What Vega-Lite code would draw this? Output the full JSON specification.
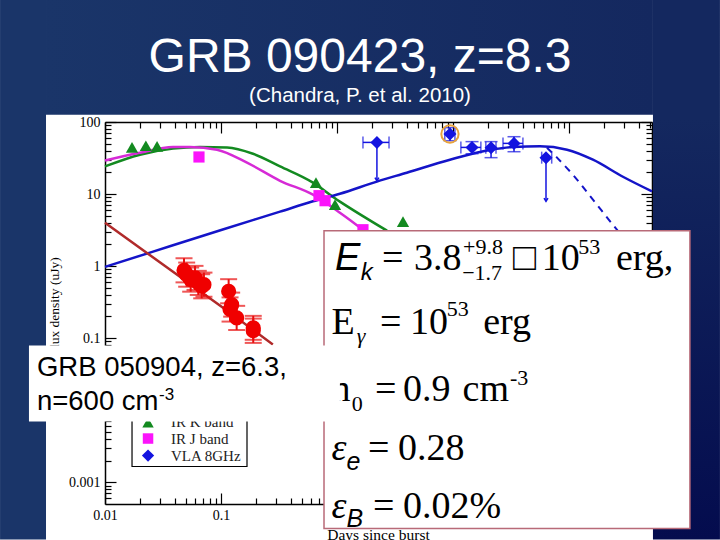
{"$schema":"https://vega.github.io/schema/vega-lite/v6.json","width":547,"height":382,"autosize":"none","padding":{"left":105,"top":122,"right":68,"bottom":36},"background":"#ffffff","view":{"stroke":null},
"datasets":{
"curves":[
{"series":"IR K model","t":0.01,"f":24.2},{"series":"IR K model","t":0.02,"f":35.2},{"series":"IR K model","t":0.0386,"f":42.7},{"series":"IR K model","t":0.0659,"f":45},{"series":"IR K model","t":0.1128,"f":44.4},{"series":"IR K model","t":0.1888,"f":36.3},{"series":"IR K model","t":0.323,"f":24.2},{"series":"IR K model","t":0.621,"f":14.4},{"series":"IR K model","t":1,"f":8.35},{"series":"IR K model","t":1.06,"f":7.85},{"series":"IR K model","t":2.7,"f":3.1},
{"series":"IR J model","t":0.01,"f":29.3},{"series":"IR J model","t":0.02,"f":37.5},{"series":"IR J model","t":0.0386,"f":45},{"series":"IR J model","t":0.0541,"f":45},{"series":"IR J model","t":0.0924,"f":41.3},{"series":"IR J model","t":0.1676,"f":27.3},{"series":"IR J model","t":0.323,"f":15.3},{"series":"IR J model","t":0.621,"f":9.8},{"series":"IR J model","t":1.06,"f":5.52},{"series":"IR J model","t":1.58,"f":3.42},{"series":"IR J model","t":1.74,"f":3.01},
{"series":"VLA model","t":0.01,"f":0.975},{"series":"VLA model","t":0.0244,"f":1.54},{"series":"VLA model","t":0.102,"f":3.2},{"series":"VLA model","t":0.323,"f":5.7},{"series":"VLA model","t":0.621,"f":7.93},{"series":"VLA model","t":1.06,"f":10.1},{"series":"VLA model","t":2.21,"f":14.9},{"series":"VLA model","t":4,"f":19.8},{"series":"VLA model","t":9.42,"f":30},{"series":"VLA model","t":21.3,"f":41.3},{"series":"VLA model","t":32.9,"f":45},{"series":"VLA model","t":56.2,"f":45.9},{"series":"VLA model","t":96.2,"f":41.3},{"series":"VLA model","t":161,"f":30},{"series":"VLA model","t":292,"f":17.4},{"series":"VLA model","t":520,"f":10.9},
{"series":"Optical model","t":0.01,"f":4},{"series":"Optical model","t":0.102,"f":0.27},{"series":"Optical model","t":0.28,"f":0.082}],
"dashed":[{"t":64.6,"f":44},{"t":78.9,"f":32},{"t":108,"f":18.6},{"t":161,"f":8.35},{"t":259,"f":3.2},{"t":300,"f":2.4}],
"optical":[{"t":0.048,"f":0.875,"flo":0.595,"fhi":1.286},{"t":0.0506,"f":0.762,"flo":0.518,"fhi":1.12},{"t":0.0548,"f":0.65,"flo":0.442,"fhi":0.955},{"t":0.0597,"f":0.686,"flo":0.467,"fhi":1.008},{"t":0.0637,"f":0.585,"flo":0.398,"fhi":0.86},{"t":0.0682,"f":0.525,"flo":0.357,"fhi":0.772},{"t":0.0713,"f":0.553,"flo":0.376,"fhi":0.813},{"t":0.1164,"f":0.448,"flo":0.305,"fhi":0.659},{"t":0.1236,"f":0.292,"flo":0.199,"fhi":0.429},{"t":0.1197,"f":0.25,"flo":0.17,"fhi":0.368},{"t":0.1365,"f":0.191,"flo":0.13,"fhi":0.281},{"t":0.1897,"f":0.139,"flo":0.095,"fhi":0.204},{"t":0.1897,"f":0.127,"flo":0.086,"fhi":0.187}],
"irk":[{"t":0.0171,"f":44.4},{"t":0.0225,"f":46.9},{"t":0.0281,"f":45.9},{"t":0.659,"f":14.4},{"t":0.962,"f":7.13},{"t":3.71,"f":4.14}],
"irj":[{"t":0.0646,"f":32.7},{"t":0.7,"f":9.5},{"t":0.789,"f":8.09},{"t":1.675,"f":3.2}],
"vla":[{"t":2.21,"f":52.1,"tlo":1.675,"thi":2.81,"flo":15.3,"limit":true},{"t":9.42,"f":68.2,"tlo":8.5,"thi":10.4,"flo":55,"fhi":83.4,"limit":false},{"t":14.6,"f":44.4,"tlo":11.7,"thi":17.4,"flo":36.3,"fhi":53.4,"limit":false},{"t":21.3,"f":44,"tlo":19.2,"thi":23.5,"flo":32,"fhi":53.4,"limit":false},{"t":33.6,"f":50.5,"tlo":27,"thi":40.1,"flo":38.7,"fhi":62.5,"limit":false},{"t":63.4,"f":32,"tlo":58.2,"thi":71,"flo":7.93,"limit":true}],
"big":[{"s":"=","t":2.44,"f":0.875},{"s":"3.8","t":4.61,"f":0.875},{"s":"□","t":32.9,"f":0.875},{"s":"10","t":58.2,"f":0.875},{"s":"erg,","t":254,"f":0.875},{"s":"E","t":0.899,"f":0.116},{"s":"=","t":2.35,"f":0.116},{"s":"10","t":4.26,"f":0.116},{"s":"erg","t":18.2,"f":0.116},{"s":"n","t":0.899,"f":0.01334},{"s":"=","t":2.13,"f":0.01334},{"s":"0.9","t":3.71,"f":0.01334},{"s":"cm","t":12.1,"f":0.01334},{"s":"=","t":1.85,"f":0.00207},{"s":"0.28","t":3.36,"f":0.00207},{"s":"=","t":2.04,"f":0.000322},{"s":"0.02%","t":3.71,"f":0.000322}],
"small":[{"s":"+9.8","t":12.2,"f":1.49},{"s":"−1.7","t":12,"f":0.635},{"s":"53","t":120,"f":1.49},{"s":"53","t":8.83,"f":0.201},{"s":"0","t":1.34,"f":0.00968},{"s":"-3","t":31,"f":0.0227}],
"epsilon":[{"s":"ε","t":0.899,"f":0.00207},{"s":"ε","t":0.899,"f":0.000322}],
"legendText":[{"s":"IR K band","t":0.0371,"f":0.0058},{"s":"IR J band","t":0.0371,"f":0.00345},{"s":"VLA 8GHz","t":0.0371,"f":0.002}]
},
"encoding":{"x":{"field":"t","type":"quantitative","scale":{"type":"log","domain":[0.01,520],"nice":false},"axis":null},"y":{"field":"f","type":"quantitative","scale":{"type":"log","domain":[0.0005,100],"nice":false},"axis":null}},
"layer":[
{"data":{"name":"curves"},"mark":{"type":"line","strokeWidth":2.5,"interpolate":"monotone"},"encoding":{
"x":{"field":"t","type":"quantitative","scale":{"type":"log","domain":[0.01,520],"nice":false},"axis":{"orient":"bottom","title":"Days since burst","titleFont":"Liberation Serif","titleFontSize":15.5,"titleFontWeight":"normal","titleColor":"#000","titleX":273,"titleY":23,"domainColor":"#000","domainWidth":1.5,"tickColor":"#000","tickWidth":1.2,"tickSize":{"condition":{"test":"abs(log(datum.value)/LN10-round(log(datum.value)/LN10))<0.001","value":-11},"value":-6},"labelPadding":15,"labelFlush":false,"labelFont":"Liberation Serif","labelFontSize":14,"labelColor":"#000","grid":false,"values":[0.01,0.02,0.03,0.04,0.05,0.06,0.07,0.08,0.09,0.1,0.2,0.3,0.4,0.5,0.6,0.7,0.8,0.9,1,2,3,4,5,6,7,8,9,10,20,30,40,50,60,70,80,90,100,200,300,400,500],"labelExpr":"abs(log(datum.value)/LN10-round(log(datum.value)/LN10))<0.001 ? ''+datum.value : ''"}},
"y":{"field":"f","type":"quantitative","scale":{"type":"log","domain":[0.0005,100],"nice":false},"axis":{"orient":"left","title":"Flux density (uJy)","titleFont":"Liberation Serif","titleFontSize":13.5,"titleFontWeight":"normal","titleColor":"#000","titleX":-44,"titleY":184,"domainColor":"#000","domainWidth":1.5,"tickColor":"#000","tickWidth":1.2,"tickSize":{"condition":{"test":"abs(log(datum.value)/LN10-round(log(datum.value)/LN10))<0.001","value":-11},"value":-6},"labelPadding":16,"labelFlush":false,"labelFont":"Liberation Serif","labelFontSize":14,"labelColor":"#000","grid":false,"values":[0.0006,0.0007,0.0008,0.0009,0.001,0.002,0.003,0.004,0.005,0.006,0.007,0.008,0.009,0.01,0.02,0.03,0.04,0.05,0.06,0.07,0.08,0.09,0.1,0.2,0.3,0.4,0.5,0.6,0.7,0.8,0.9,1,2,3,4,5,6,7,8,9,10,20,30,40,50,60,70,80,90,100],"labelExpr":"abs(log(datum.value)/LN10-round(log(datum.value)/LN10))<0.001 ? ''+datum.value : ''"}},
"color":{"field":"series","type":"nominal","scale":{"domain":["IR K model","IR J model","VLA model","Optical model"],"range":["#138a20","#d62ad6","#1414c8","#b02a2a"]},"legend":null}}},
{"data":{"name":"dashed"},"mark":{"type":"line","strokeWidth":2,"color":"#1414c8","strokeDash":[7,6],"interpolate":"monotone"},"encoding":{
"x":{"field":"t","type":"quantitative","scale":{"type":"log","domain":[0.01,520],"nice":false},"axis":{"orient":"top","title":null,"labels":false,"domainColor":"#000","domainWidth":1.5,"tickColor":"#000","tickWidth":1.2,"tickSize":{"condition":{"test":"abs(log(datum.value)/LN10-round(log(datum.value)/LN10))<0.001","value":-11},"value":-6},"grid":false,"values":[0.01,0.02,0.03,0.04,0.05,0.06,0.07,0.08,0.09,0.1,0.2,0.3,0.4,0.5,0.6,0.7,0.8,0.9,1,2,3,4,5,6,7,8,9,10,20,30,40,50,60,70,80,90,100,200,300,400,500]}},
"y":{"field":"f","type":"quantitative","scale":{"type":"log","domain":[0.0005,100],"nice":false},"axis":{"orient":"right","title":null,"labels":false,"domainColor":"#000","domainWidth":1.5,"tickColor":"#000","tickWidth":1.2,"tickSize":{"condition":{"test":"abs(log(datum.value)/LN10-round(log(datum.value)/LN10))<0.001","value":-11},"value":-6},"grid":false,"values":[0.0006,0.0007,0.0008,0.0009,0.001,0.002,0.003,0.004,0.005,0.006,0.007,0.008,0.009,0.01,0.02,0.03,0.04,0.05,0.06,0.07,0.08,0.09,0.1,0.2,0.3,0.4,0.5,0.6,0.7,0.8,0.9,1,2,3,4,5,6,7,8,9,10,20,30,40,50,60,70,80,90,100]}}}},
{"data":{"values":[{"t":0.001245,"t2":0.0031,"f":4966,"f2":0.000161}]},"mark":{"type":"rect","color":"#1a3569"},"encoding":{"x2":{"field":"t2"},"y2":{"field":"f2"}}},
{"data":{"values":[{"t":530,"t2":2004,"f":4966,"f2":0.000161}]},"mark":{"type":"rect","color":{"gradient":"linear","x1":0,"y1":0,"x2":0,"y2":1,"stops":[{"offset":0,"color":"#14285f"},{"offset":0.22,"color":"#14285f"},{"offset":1,"color":"#040c4e"}]}},"encoding":{"x2":{"field":"t2"},"y2":{"field":"f2"}}},
{"data":{"values":[{"t":0.0031,"t2":530,"f":4966,"f2":126.3}]},"mark":{"type":"rect","color":{"gradient":"linear","x1":0,"y1":0,"x2":1,"y2":0,"stops":[{"offset":0,"color":"#1a3569"},{"offset":1,"color":"#14285f"}]}},"encoding":{"x2":{"field":"t2"},"y2":{"field":"f2"}}},
{"data":{"values":[{"s":"GRB 090423, z=8.3","t":1.58,"f":499}]},"mark":{"type":"text","font":"Liberation Sans","fontSize":48,"color":"#ffffff","align":"center","baseline":"alphabetic"},"encoding":{"text":{"field":"s"}}},
{"data":{"values":[{"s":"(Chandra, P.  et al. 2010)","t":1.58,"f":187}]},"mark":{"type":"text","font":"Liberation Sans","fontSize":20.5,"color":"#ffffff","align":"center","baseline":"alphabetic"},"encoding":{"text":{"field":"s"}}},
{"data":{"name":"optical"},"mark":{"type":"rule","color":"#e81010","strokeWidth":2},"encoding":{"y":{"field":"flo","type":"quantitative","scale":{"type":"log","domain":[0.0005,100],"nice":false},"axis":null},"y2":{"field":"fhi"}}},
{"data":{"name":"optical"},"mark":{"type":"tick","orient":"horizontal","color":"#e81010","size":17,"thickness":2},"encoding":{"y":{"field":"flo","type":"quantitative","scale":{"type":"log","domain":[0.0005,100],"nice":false},"axis":null}}},
{"data":{"name":"optical"},"mark":{"type":"tick","orient":"horizontal","color":"#e81010","size":17,"thickness":2},"encoding":{"y":{"field":"fhi","type":"quantitative","scale":{"type":"log","domain":[0.0005,100],"nice":false},"axis":null}}},
{"data":{"name":"optical"},"mark":{"type":"point","shape":"circle","filled":true,"opacity":1,"color":"#f00000","size":230}},
{"data":{"name":"irk"},"mark":{"type":"point","shape":"triangle-up","filled":true,"opacity":1,"color":"#138a20","size":150}},
{"data":{"name":"irj"},"mark":{"type":"point","shape":"square","filled":true,"opacity":1,"color":"#fb14fb","size":125}},
{"data":{"name":"vla"},"mark":{"type":"rule","color":"#1414e0","strokeWidth":1.5},"encoding":{"y":{"field":"flo","type":"quantitative","scale":{"type":"log","domain":[0.0005,100],"nice":false},"axis":null},"y2":{"field":"f"}}},
{"data":{"name":"vla"},"transform":[{"filter":"!datum.limit"}],"mark":{"type":"rule","color":"#1414e0","strokeWidth":1.5},"encoding":{"y2":{"field":"fhi"}}},
{"data":{"name":"vla"},"mark":{"type":"rule","color":"#1414e0","strokeWidth":1.5},"encoding":{"x":{"field":"tlo","type":"quantitative","scale":{"type":"log","domain":[0.01,520],"nice":false},"axis":null},"x2":{"field":"thi"}}},
{"data":{"name":"vla"},"mark":{"type":"tick","orient":"vertical","color":"#1414e0","size":12,"thickness":1.5},"encoding":{"x":{"field":"tlo","type":"quantitative","scale":{"type":"log","domain":[0.01,520],"nice":false},"axis":null}}},
{"data":{"name":"vla"},"mark":{"type":"tick","orient":"vertical","color":"#1414e0","size":12,"thickness":1.5},"encoding":{"x":{"field":"thi","type":"quantitative","scale":{"type":"log","domain":[0.01,520],"nice":false},"axis":null}}},
{"data":{"name":"vla"},"transform":[{"filter":"!datum.limit"}],"mark":{"type":"tick","orient":"horizontal","color":"#1414e0","size":13,"thickness":1.5},"encoding":{"y":{"field":"flo","type":"quantitative","scale":{"type":"log","domain":[0.0005,100],"nice":false},"axis":null}}},
{"data":{"name":"vla"},"transform":[{"filter":"!datum.limit"}],"mark":{"type":"tick","orient":"horizontal","color":"#1414e0","size":13,"thickness":1.5},"encoding":{"y":{"field":"fhi","type":"quantitative","scale":{"type":"log","domain":[0.0005,100],"nice":false},"axis":null}}},
{"data":{"name":"vla"},"transform":[{"filter":"datum.limit"}],"mark":{"type":"point","shape":"M-1,-1.6L0,0L1,-1.6","filled":false,"opacity":1,"color":"#1414e0","strokeWidth":1.5,"size":16},"encoding":{"y":{"field":"flo","type":"quantitative","scale":{"type":"log","domain":[0.0005,100],"nice":false},"axis":null}}},
{"data":{"name":"vla"},"mark":{"type":"point","shape":"diamond","filled":true,"opacity":1,"color":"#1414e0","size":170}},
{"data":{"values":[{"t":9.42,"f":68.2}]},"mark":{"type":"point","shape":"circle","filled":false,"opacity":1,"color":"#e8a33c","strokeWidth":2,"size":300}},
{"data":{"values":[{"t":0.0171,"t2":0.1676,"f":0.0313,"f2":0.001656}]},"mark":{"type":"rect","fill":"#ffffff","stroke":"#000000","strokeWidth":1.2},"encoding":{"x2":{"field":"t2"},"y2":{"field":"f2"}}},
{"data":{"values":[{"t":0.0235,"f":0.00675}]},"mark":{"type":"point","shape":"triangle-up","filled":true,"opacity":1,"color":"#138a20","size":130}},
{"data":{"values":[{"t":0.0235,"f":0.00405}]},"mark":{"type":"point","shape":"square","filled":true,"opacity":1,"color":"#fb14fb","size":110}},
{"data":{"values":[{"t":0.0235,"f":0.002355}]},"mark":{"type":"point","shape":"diamond","filled":true,"opacity":1,"color":"#1414e0","size":150}},
{"data":{"name":"legendText"},"mark":{"type":"text","font":"Liberation Serif","fontSize":15,"color":"#222","align":"left","baseline":"alphabetic"},"encoding":{"text":{"field":"s"}}},
{"data":{"values":[{"t":0.773,"t2":1104,"f":3.1,"f2":0.000229}]},"mark":{"type":"rect","fill":"#ffffff","stroke":"#b86a78","strokeWidth":1.5},"encoding":{"x2":{"field":"t2"},"y2":{"field":"f2"}}},
{"data":{"name":"big"},"mark":{"type":"text","font":"Liberation Serif","fontSize":38,"color":"#000","align":"left","baseline":"alphabetic"},"encoding":{"text":{"field":"s"}}},
{"data":{"name":"small"},"mark":{"type":"text","font":"Liberation Serif","fontSize":22,"color":"#000","align":"left","baseline":"alphabetic"},"encoding":{"text":{"field":"s"}}},
{"data":{"values":[{"s":"E","t":0.962,"f":0.875}]},"mark":{"type":"text","font":"Liberation Sans","fontStyle":"italic","fontSize":38,"color":"#000","align":"left","baseline":"alphabetic"},"encoding":{"text":{"field":"s"}}},
{"data":{"values":[{"s":"k","t":1.6,"f":0.635}]},"mark":{"type":"text","font":"Liberation Sans","fontStyle":"italic","fontSize":24,"color":"#000","align":"left","baseline":"alphabetic"},"encoding":{"text":{"field":"s"}}},
{"data":{"values":[{"s":"γ","t":1.48,"f":0.0869}]},"mark":{"type":"text","font":"Liberation Serif","fontStyle":"italic","fontSize":22,"color":"#000","align":"left","baseline":"alphabetic"},"encoding":{"text":{"field":"s"}}},
{"data":{"name":"epsilon"},"mark":{"type":"text","font":"Liberation Serif","fontStyle":"italic","fontSize":38,"color":"#000","align":"left","baseline":"alphabetic"},"encoding":{"text":{"field":"s"}}},
{"data":{"values":[{"s":"e","t":1.21,"f":0.0015},{"s":"B","t":1.21,"f":0.000236}]},"mark":{"type":"text","font":"Liberation Sans","fontStyle":"italic","fontSize":25,"color":"#000","align":"left","baseline":"alphabetic"},"encoding":{"text":{"field":"s"}}},
{"data":{"values":[{"t":0.00221,"t2":1.06,"f":0.0791,"f2":0.00697}]},"mark":{"type":"rect","color":"#ffffff"},"encoding":{"x2":{"field":"t2"},"y2":{"field":"f2"}}},
{"data":{"values":[{"s":"GRB 050904, z=6.3,","t":0.00259,"f":0.0303},{"s":"n=600 cm","t":0.00259,"f":0.01023}]},"mark":{"type":"text","font":"Liberation Sans","fontSize":27.5,"color":"#000","align":"left","baseline":"alphabetic"},"encoding":{"text":{"field":"s"}}},
{"data":{"values":[{"s":"-3","t":0.0292,"f":0.01377}]},"mark":{"type":"text","font":"Liberation Sans","fontSize":17,"color":"#000","align":"left","baseline":"alphabetic"},"encoding":{"text":{"field":"s"}}}
],
"resolve":{"axis":{"x":"independent","y":"independent"}}}
